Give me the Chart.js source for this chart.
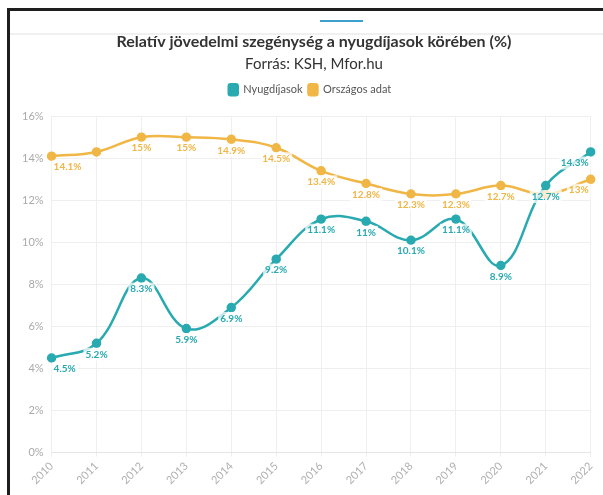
<!DOCTYPE html>
<html>
<head>
<meta charset="utf-8">
<script src="https://cdn.jsdelivr.net/npm/chart.js@4"></script>
<style>
html,body{margin:0;padding:0;background:#fff;}
#wrap{position:relative;width:603px;height:495px;overflow:hidden;}
#c{position:absolute;left:0;top:0;}
.fr{position:absolute;}
</style>
</head>
<body>
<div id="wrap">
<canvas id="c" width="603" height="495"></canvas>
<div class="fr" style="left:7px;top:8px;width:596px;height:3px;background:#1e1e1e"></div>
<div class="fr" style="left:7px;top:8px;width:3px;height:487px;background:#1e1e1e"></div>
<div class="fr" style="left:10px;top:33px;width:593px;height:2px;background:#f0f0f0"></div>
<div class="fr" style="left:320px;top:20px;width:43px;height:2px;background:#3d9fcc"></div>
</div>
<script>
const years = ['2010','2011','2012','2013','2014','2015','2016','2017','2018','2019','2020','2021','2022'];
const nyugdijasok = [4.5,5.2,8.3,5.9,6.9,9.2,11.1,11,10.1,11.1,8.9,12.7,14.3];
const orszagos = [14.1,14.3,15,15,14.9,14.5,13.4,12.8,12.3,12.3,12.7,12.3,13];
const yTicks = [0,2,4,6,8,10,12,14,16];
const hiddenLabels = [[], [1,11]];

const TEAL = '#28aab0';
const ORANGE = '#f0b646';
const FONT = 'Lato, "Open Sans", sans-serif';

const labelPlugin = {
  id: 'pointLabels',
  afterDatasetsDraw(chart) {
    const ctx = chart.ctx;
    const area = chart.chartArea;
    ctx.save();
    ctx.font = 'bold 10px ' + FONT;
    ctx.textBaseline = 'middle';
    ctx.textAlign = 'center';
    chart.data.datasets.forEach((ds, di) => {
      const meta = chart.getDatasetMeta(di);
      meta.data.forEach((pt, i) => {
        if (hiddenLabels[di].includes(i)) return;
        const txt = ds.data[i] + '%';
        const w = ctx.measureText(txt).width + 4;
        const h = 13;
        let x = pt.x;
        const y = pt.y + 11;
        if (x - w/2 < area.left) x = area.left + w/2;
        if (x + w/2 > area.right) x = area.right - w/2;
        ctx.fillStyle = 'rgba(255,255,255,0.75)';
        ctx.fillRect(x - w/2, y - h/2, w, h);
        ctx.fillStyle = ds.borderColor;
        ctx.fillText(txt, x, y);
      });
    });
    ctx.restore();
  }
};

const headerPlugin = {
  id: 'headerTweak',
  afterInit(chart) {
    const lg = chart.legend;
    if (lg) {
      const orig = lg.fit.bind(lg);
      lg.fit = function(){ orig(); this.height += 11; };
    }
  },
  afterLayout(chart) {
    const TitleCls = Chart.Title && Chart.Title._element;
    chart.boxes.forEach(b => {
      if (TitleCls && b instanceof TitleCls) { b.left += 8; b.right += 8; }
    });
    if (chart.legend) {
      const lg = chart.legend;
      lg.left += 4; lg.right += 4;
      if (lg.legendHitBoxes) lg.legendHitBoxes.forEach(h => { h.left += 4; });
    }
  }
};

new Chart(document.getElementById('c'), {
  type: 'line',
  data: {
    labels: years,
    datasets: [
      {label:'Nyugdíjasok', data:nyugdijasok, borderColor:TEAL, backgroundColor:TEAL, pointBackgroundColor:TEAL, borderWidth:2.5, pointRadius:3.5, tension:0.4},
      {label:'Országos adat', data:orszagos, borderColor:ORANGE, backgroundColor:ORANGE, pointBackgroundColor:ORANGE, borderWidth:2.5, pointRadius:3.5, tension:0.4}
    ]
  },
  plugins:[labelPlugin, headerPlugin],
  options: {
    responsive:false,
    animation:false,
    layout:{padding:{left:14,right:5,top:32,bottom:5}},
    plugins:{
      title:{display:true, text:'Relatív jövedelmi szegénység a nyugdíjasok körében (%)', color:'#333', font:{family:FONT, size:16, weight:'bold'}, padding:{top:0,bottom:4}},
      subtitle:{display:true, text:'Forrás: KSH, Mfor.hu', color:'#333', font:{family:FONT, size:15}, padding:{top:0,bottom:5}},
      legend:{display:true, labels:{boxWidth:9, boxHeight:11, useBorderRadius:true, borderRadius:2, color:'#555', padding:6, font:{family:FONT, size:11}}},
      tooltip:{enabled:false}
    },
    scales:{
      x:{
        grid:{color:'#efefef', drawTicks:true, tickLength:4},
        border:{color:'#e6e6e6'},
        ticks:{color:'#b0b0b0', maxRotation:45, minRotation:45, font:{family:FONT, size:11}, padding:3}
      },
      y:{
        min:0, max:16,
        afterBuildTicks(scale){ scale.ticks = yTicks.map(v=>({value:v})); },
        grid:{color:'#efefef', drawTicks:false},
        border:{display:false},
        ticks:{color:'#aaa', padding:8, callback:v=>v+'%', font:{family:FONT, size:11}}
      }
    }
  }
});
</script>
</body>
</html>
